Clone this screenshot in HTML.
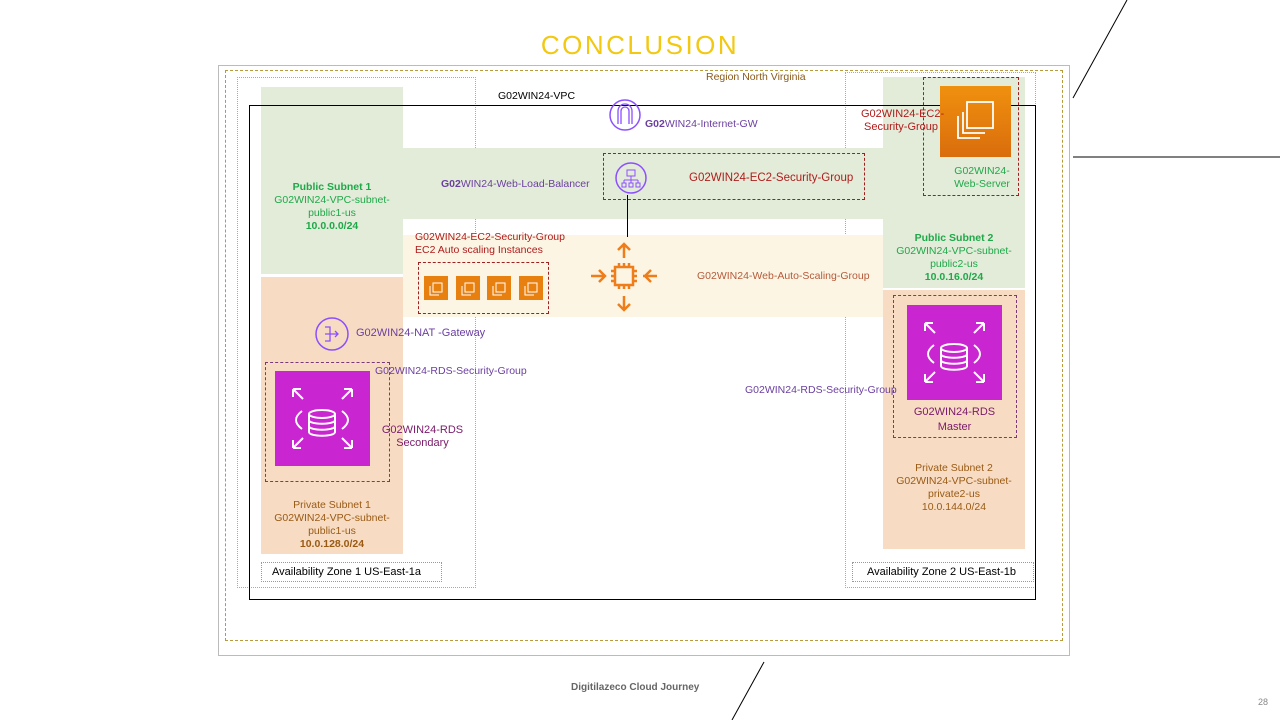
<!DOCTYPE html>
<html><head><meta charset="utf-8"><style>
*{margin:0;padding:0;box-sizing:border-box}
body{width:1280px;height:720px;position:relative;background:#fff;font-family:"Liberation Sans",sans-serif;overflow:hidden}
.a{position:absolute}
.t{position:absolute;font-size:10.5px;line-height:13px;white-space:nowrap}
.c{text-align:center}
.g{background:#e3ecd9}
.o{background:#f7dcc3}
.pur{color:#6b3fa0}
.red{color:#b01c1c}
.grn{color:#1fa84a}
.brn{color:#9a5a14}
</style></head><body>
<div class="t" style="left:0;width:1280px;top:30px;font-size:26px;line-height:30px;color:#f2c811;letter-spacing:2.5px;text-align:center">CONCLUSION</div>
<svg class="a" style="left:0;top:0" width="1280" height="720">
<line x1="1073" y1="98" x2="1127" y2="0" stroke="#000" stroke-width="1"/>
<line x1="1073" y1="157" x2="1280" y2="157" stroke="#000" stroke-width="1"/>
<line x1="732" y1="720" x2="764" y2="662" stroke="#000" stroke-width="1"/>
</svg>
<div class="a" style="left:218px;top:65px;width:852px;height:591px;border:1px solid #bbb"></div>
<div class="a" style="left:225px;top:70px;width:838px;height:571px;border:1.5px dashed #b89a3a"></div>
<div class="a" style="left:237px;top:77px;width:239px;height:511px;border:1px dotted #aaa"></div>
<div class="a" style="left:845px;top:72px;width:191px;height:516px;border:1px dotted #aaa"></div>
<div class="a g" style="left:261px;top:87px;width:142px;height:187px"></div>
<div class="a g" style="left:403px;top:148px;width:622px;height:71px"></div>
<div class="a g" style="left:883px;top:77px;width:142px;height:211px"></div>
<div class="a o" style="left:261px;top:277px;width:142px;height:277px"></div>
<div class="a o" style="left:883px;top:290px;width:142px;height:259px"></div>
<div class="a" style="left:403px;top:235px;width:480px;height:82px;background:#fcf5e3"></div>
<div class="a" style="left:249px;top:105px;width:787px;height:495px;border:1px solid #000"></div>
<div class="t" style="left:498px;top:90px;color:#000">G02WIN24-VPC</div>
<div class="t" style="left:706px;top:71px;color:#8a5a1a">Region North Virginia</div>
<svg class="a" style="left:608px;top:98px" width="34" height="34"><circle cx="17" cy="17" r="15" fill="none" stroke="#8c4fff" stroke-width="1.5"/><path d="M10 26V13a7 7 0 0 1 14 0v13M13 26V13a4 4 0 0 1 8 0v13" fill="none" stroke="#8c4fff" stroke-width="1.3"/></svg>
<div class="t pur" style="left:645px;top:118px"><b>G02</b>WIN24-Internet-GW</div>
<div class="a" style="left:603px;top:153px;width:262px;height:47px;border:1px dashed #a02020"></div>
<svg class="a" style="left:614px;top:161px" width="34" height="34"><circle cx="17" cy="17" r="15" fill="none" stroke="#8c4fff" stroke-width="1.5"/><rect x="13" y="9" width="8" height="6" fill="none" stroke="#8c4fff"/><path d="M17 15v4M10 19h14M10 19v3M17 19v3M24 19v3" stroke="#8c4fff" fill="none"/><rect x="8" y="22" width="4" height="4" fill="none" stroke="#8c4fff"/><rect x="15" y="22" width="4" height="4" fill="none" stroke="#8c4fff"/><rect x="22" y="22" width="4" height="4" fill="none" stroke="#8c4fff"/></svg>
<div class="t red" style="left:689px;top:172px;font-size:11.5px">G02WIN24-EC2-Security-Group</div>
<div class="t pur" style="left:441px;top:178px"><b>G02</b>WIN24-Web-Load-Balancer</div>
<div class="a" style="left:627px;top:195px;width:1px;height:42px;background:#000"></div>
<div class="t c grn" style="left:261px;width:142px;top:181px"><b>Public Subnet 1</b><br>G02WIN24-VPC-subnet-<br>public1-us<br><b>10.0.0.0/24</b></div>
<div class="t red" style="left:415px;top:231px">G02WIN24-EC2-Security-Group<br>EC2 Auto scaling Instances</div>
<div class="a" style="left:418px;top:262px;width:131px;height:52px;border:1px dashed #a02020"></div>
<svg class="a" style="left:424px;top:276px" width="120" height="24"><g fill="#e8800f"><rect x="0" width="24" height="24"/><rect x="32" width="24" height="24"/><rect x="63" width="24" height="24"/><rect x="95" width="24" height="24"/></g><g fill="none" stroke="#fff" stroke-width="1"><path d="M9 7h9v9h-9zM6 10v9h9"/><path d="M41 7h9v9h-9zM38 10v9h9"/><path d="M72 7h9v9h-9zM69 10v9h9"/><path d="M104 7h9v9h-9zM101 10v9h9"/></g></svg>
<svg class="a" style="left:589px;top:242px" width="72" height="70" fill="none" stroke="#ef7d1a" stroke-width="2.5"><rect x="26" y="25" width="18" height="18"/><path d="M30 21v4M35 21v4M40 21v4M30 43v4M35 43v4M40 43v4M22 29h4M22 34h4M22 39h4M44 29h4M44 34h4M44 39h4M35 2v14M29 8l6-6 6 6M35 54v14M29 62l6 6 6-6M2 34h14M10 28l6 6-6 6M68 34H54M62 28l-6 6 6 6"/></svg>
<div class="t" style="left:697px;top:270px;color:#b55a3a">G02WIN24-Web-Auto-Scaling-Group</div>
<div class="a" style="left:923px;top:77px;width:96px;height:119px;border:1px dashed #a02020"></div>
<div class="a" style="left:940px;top:86px;width:71px;height:71px;background:linear-gradient(#f0900f,#d96d0c)"></div>
<svg class="a" style="left:940px;top:86px" width="71" height="71" fill="none" stroke="#fff" stroke-width="1.8"><rect x="27" y="16" width="26" height="26"/><path d="M18 30v22h22M23 26v21h22"/></svg>
<div class="t red" style="left:861px;top:108px;font-size:11px">G02WIN24-EC2-<br>&nbsp;Security-Group</div>
<div class="t c grn" style="left:942px;width:80px;top:165px">G02WIN24-<br>Web-Server</div>
<div class="t c grn" style="left:883px;width:142px;top:232px"><b>Public Subnet 2</b><br>G02WIN24-VPC-subnet-<br>public2-us<br><b>10.0.16.0/24</b></div>
<svg class="a" style="left:314px;top:316px" width="36" height="36"><circle cx="18" cy="18" r="16" fill="none" stroke="#8c4fff" stroke-width="1.5"/><path d="M11 11h5v14h-5M11 18h13M21 15l3 3-3 3" fill="none" stroke="#8c4fff" stroke-width="1.3"/></svg>
<div class="t pur" style="left:356px;top:327px;font-size:11px">G02WIN24-NAT -Gateway</div>
<div class="a" style="left:265px;top:362px;width:125px;height:120px;border:1px dashed #7a3a7a"></div>
<div class="a" style="left:275px;top:371px;width:95px;height:95px;background:#c925d1"></div>
<svg class="a" style="left:275px;top:371px" width="95" height="95" fill="none" stroke="#fff" stroke-width="2"><ellipse cx="47" cy="43" rx="13" ry="4"/><path d="M34 43v18c0 5 26 5 26 0V43M34 49c0 5 26 5 26 0M34 55c0 5 26 5 26 0M27 40c-8 6-8 12 0 18M67 40c8 6 8 12 0 18M18 18l10 10M18 18v8M18 18h8M77 18l-10 10M77 18v8M77 18h-8M18 77l10-10M18 77v-8M18 77h8M77 77l-10-10M77 77v-8M77 77h-8"/></svg>
<div class="t pur" style="left:375px;top:365px">G02WIN24-RDS-Security-Group</div>
<div class="t c" style="left:380px;width:85px;top:424px;color:#7a1a6a;font-size:11px">G02WIN24-RDS<br>Secondary</div>
<div class="t c brn" style="left:261px;width:142px;top:499px">Private Subnet 1<br>G02WIN24-VPC-subnet-<br>public1-us<br><b>10.0.128.0/24</b></div>
<div class="a" style="left:261px;top:562px;width:181px;height:20px;border:1px dotted #999"></div>
<div class="t" style="left:272px;top:566px;color:#000;font-size:11px">Availability Zone 1 US-East-1a</div>
<div class="a" style="left:893px;top:295px;width:124px;height:143px;border:1px dashed #7a3a7a"></div>
<div class="a" style="left:907px;top:305px;width:95px;height:95px;background:#c925d1"></div>
<svg class="a" style="left:907px;top:305px" width="95" height="95" fill="none" stroke="#fff" stroke-width="2"><ellipse cx="47" cy="43" rx="13" ry="4"/><path d="M34 43v18c0 5 26 5 26 0V43M34 49c0 5 26 5 26 0M34 55c0 5 26 5 26 0M27 40c-8 6-8 12 0 18M67 40c8 6 8 12 0 18M18 18l10 10M18 18v8M18 18h8M77 18l-10 10M77 18v8M77 18h-8M18 77l10-10M18 77v-8M18 77h8M77 77l-10-10M77 77v-8M77 77h-8"/></svg>
<div class="t pur" style="left:745px;top:384px">G02WIN24-RDS-Security-Group</div>
<div class="t c" style="left:907px;width:95px;top:405px;color:#7a1a6a;font-size:11px;line-height:15px">G02WIN24-RDS<br>Master</div>
<div class="t c brn" style="left:883px;width:142px;top:462px">Private Subnet 2<br>G02WIN24-VPC-subnet-<br>private2-us<br>10.0.144.0/24</div>
<div class="a" style="left:852px;top:562px;width:182px;height:20px;border:1px dotted #999"></div>
<div class="t" style="left:867px;top:566px;color:#000;font-size:11px">Availability Zone 2 US-East-1b</div>
<div class="t" style="left:571px;top:681px;font-size:10px;color:#666;font-weight:bold">Digitilazeco Cloud Journey</div>
<div class="t" style="left:1258px;top:696px;font-size:9px;color:#888">28</div>
</body></html>
